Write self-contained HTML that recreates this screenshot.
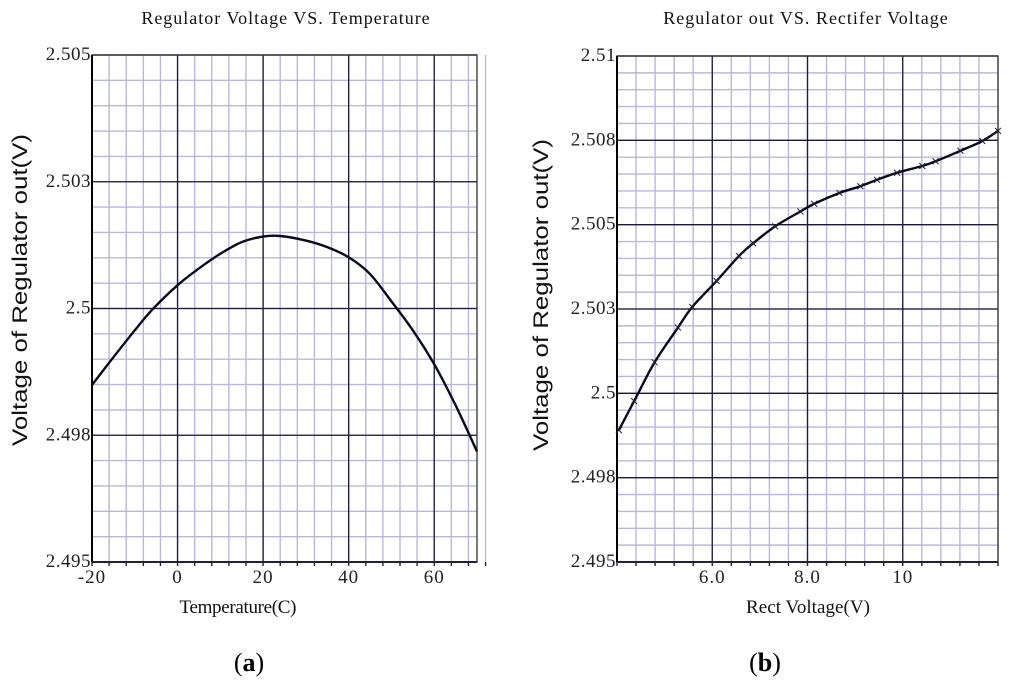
<!DOCTYPE html>
<html><head><meta charset="utf-8"><style>
html,body{margin:0;padding:0;background:#fff;width:1024px;height:691px;overflow:hidden}
svg text{font-family:"Liberation Serif",serif}
</style></head><body>
<svg id="svg" width="1024" height="691" xmlns="http://www.w3.org/2000/svg">
<text x="286" y="24" font-size="18" text-anchor="middle" letter-spacing="1" fill="#111">Regulator Voltage VS. Temperature</text>
<text x="806" y="24" font-size="18" text-anchor="middle" letter-spacing="1" fill="#111">Regulator out VS. Rectifer Voltage</text>
<text x="238" y="613" font-size="19" text-anchor="middle" fill="#111" textLength="117">Temperature(C)</text>
<text x="808" y="613" font-size="19" text-anchor="middle" fill="#111" textLength="124">Rect Voltage(V)</text>
<text transform="translate(27,290) rotate(-90)" font-size="21" text-anchor="middle" fill="#111" textLength="312" lengthAdjust="spacingAndGlyphs" style="font-family:'Liberation Sans',sans-serif">Voltage of Regulator out(V)</text>
<text transform="translate(548,295) rotate(-90)" font-size="21" text-anchor="middle" fill="#111" textLength="312" lengthAdjust="spacingAndGlyphs" style="font-family:'Liberation Sans',sans-serif">Voltage of Regulator out(V)</text>
<text x="249" y="671" font-size="26" text-anchor="middle" fill="#000">(<tspan font-weight="bold">a</tspan>)</text>
<text x="765" y="671" font-size="26" text-anchor="middle" fill="#000">(<tspan font-weight="bold">b</tspan>)</text>
<g id="ga"></g>
<g id="gb"></g>
</svg>
<script>
// Chart A data
const tempX = [-20,-16,-10,-6,0,5,10,15,20,24,30,35,40,45,50,55,60,65,70];
const tempV = [2.49849,2.49893,2.49957,2.49997,2.50046,2.50079,2.50108,2.50131,2.50142,2.50143,2.50134,2.50121,2.50101,2.50068,2.50014,2.49957,2.4989,2.49809,2.49718];
const aXTicks = [-20,0,20,40,60];
const aXTickLabels = ["-20","0","20","40","60"];
const aYTicks = [2.505,2.5025,2.5,2.4975,2.495];
const aYTickLabels = ["2.505","2.503","2.5","2.498","2.495"];
// Chart B data
const rectX = [4.04,4.36,4.79,5.28,5.58,6.09,6.56,6.86,7.32,7.85,8.14,8.67,9.11,9.46,9.88,10.41,10.69,11.21,11.67,12.0];
const rectV = [2.49891,2.49977,2.50092,2.50195,2.50256,2.50333,2.50407,2.50445,2.50495,2.50539,2.50562,2.50594,2.50614,2.50633,2.50654,2.50674,2.50688,2.50719,2.50748,2.50778];
const bXTicks = [6,8,10];
const bXTickLabels = ["6.0","8.0","10"];
const bYTicks = [2.51,2.5075,2.505,2.5025,2.5,2.4975,2.495];
const bYTickLabels = ["2.51","2.508","2.505","2.503","2.5","2.498","2.495"];

const NS="http://www.w3.org/2000/svg";
function mk(p,tag,at){const e=document.createElementNS(NS,tag);for(const k in at)e.setAttribute(k,at[k]);p.appendChild(e);return e;}

function chart(g,o){
  const sx=v=>o.L+(v-o.x0)/(o.x1-o.x0)*(o.R-o.L);
  const sy=v=>o.B-(v-o.y0)/(o.y1-o.y0)*(o.B-o.T);
  const nx=Math.round((o.x1-o.x0)/o.xMinor);
  for(let i=0;i<=nx;i++){const x=sx(o.x0+i*o.xMinor);
    const l=mk(g,'line',{x1:x,x2:x,y1:o.T,y2:o.B,stroke:'#b8b8dc','stroke-width':1.4});
    
    
    const tk=mk(g,'line',{x1:x,x2:x,y1:o.B,y2:o.B+4,stroke:'#223','stroke-width':1.4});
    
    }
  const ny=Math.round((o.y1-o.y0)/o.yMinor);
  for(let i=0;i<=ny;i++){const y=sy(o.y0+i*o.yMinor);
    const l=mk(g,'line',{x1:o.L,x2:o.R,y1:y,y2:y,stroke:'#b8b8dc','stroke-width':1.4});
    
    }
  o.xt.forEach((v,i)=>{const x=sx(v);
    const l=mk(g,'line',{x1:x,x2:x,y1:o.T,y2:o.B,stroke:'#1a1a3a','stroke-width':1.3});
    
    
    const t=mk(g,'text',{x:x,y:o.B+21,'font-size':19,'text-anchor':'middle','letter-spacing':1,fill:'#222'});t.textContent=o.xl[i];
    
    });
  o.yt.forEach((v,i)=>{const y=sy(v);
    const l=mk(g,'line',{x1:o.L,x2:o.R,y1:y,y2:y,stroke:'#1a1a3a','stroke-width':1.3});
    
    
    const t=mk(g,'text',{x:o.L-1,y:y+5,'font-size':19,'text-anchor':'end','letter-spacing':0.5,fill:'#222'});t.textContent=o.yl[i];
    
    });
  const f=mk(g,'rect',{x:o.L,y:o.T,width:o.R-o.L,height:o.B-o.T,fill:'none',stroke:'#333','stroke-width':1.3});
  
  
  const ax=mk(g,'line',{x1:o.L,x2:o.L,y1:o.T,y2:o.B,stroke:'#000','stroke-width':2});
  
  
  const ax2=mk(g,'line',{x1:o.L,x2:o.R,y1:o.B,y2:o.B,stroke:'#223','stroke-width':2});
  
  
  const P=o.xs.map((x,i)=>[sx(x),sy(o.ys[i])]);
  let d='M'+P[0][0]+','+P[0][1];
  for(let i=0;i<P.length-1;i++){const p0=P[i-1]||P[i],p1=P[i],p2=P[i+1],p3=P[i+2]||p2;
    d+=` C${p1[0]+(p2[0]-p0[0])/6},${p1[1]+(p2[1]-p0[1])/6} ${p2[0]-(p3[0]-p1[0])/6},${p2[1]-(p3[1]-p1[1])/6} ${p2[0]},${p2[1]}`;}
  const c=mk(g,'path',{d:d,fill:'none',stroke:'#0a0a1e','stroke-width':2.4});
  
  
  if(o.markers){P.forEach(p=>{
    const m=mk(g,'path',{d:`M${p[0]-3},${p[1]-3}L${p[0]+3},${p[1]+3}M${p[0]-3},${p[1]+3}L${p[0]+3},${p[1]-3}`,stroke:'#223','stroke-width':1});
    
    });}
}
chart(document.getElementById('ga'),{L:92,R:477,T:55,B:562,x0:-20,x1:70,y0:2.495,y1:2.505,xMinor:4,yMinor:0.0005,xt:aXTicks,xl:aXTickLabels,yt:aYTicks,yl:aYTickLabels,xs:tempX,ys:tempV,markers:false});
chart(document.getElementById('gb'),{L:617,R:998,T:56,B:562,x0:4,x1:12,y0:2.495,y1:2.51,xMinor:0.4,yMinor:0.0005,xt:bXTicks,xl:bXTickLabels,yt:bYTicks,yl:bYTickLabels,xs:rectX,ys:rectV,markers:true});
</script>
</body></html>
